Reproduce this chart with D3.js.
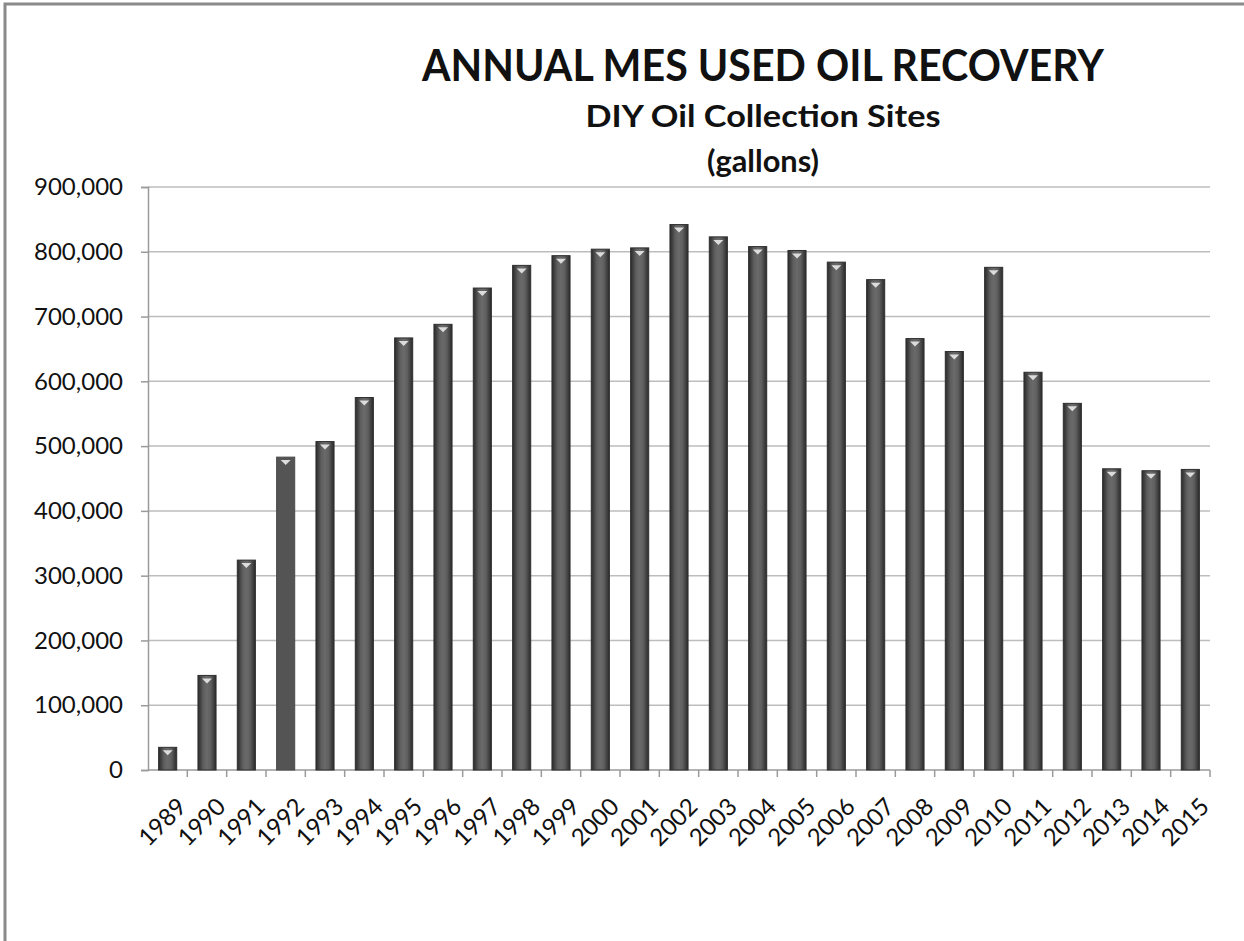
<!DOCTYPE html>
<html>
<head>
<meta charset="utf-8">
<script src="https://cdn.jsdelivr.net/npm/d3@7"></script>
<style>
  html, body { margin: 0; padding: 0; background: #fff; }
  svg { display: block; }
</style>
</head>
<body>
<div id="chart"></div>
<script>
const years = ["1989","1990","1991","1992","1993","1994","1995","1996","1997","1998","1999","2000","2001","2002","2003","2004","2005","2006","2007","2008","2009","2010","2011","2012","2013","2014","2015"];
const gallons = [35000,146000,324000,483000,507000,575000,667000,688000,744000,779000,794000,804000,806000,842000,823000,808000,802000,784000,757000,666000,646000,776000,614000,566000,465000,462000,464000];
const flatYears = ["1992"];
const yTicks = [0,100000,200000,300000,400000,500000,600000,700000,800000,900000];
const titleText = "ANNUAL MES USED OIL RECOVERY";
const subtitleText = "DIY Oil Collection Sites";
const unitText = "(gallons)";

const W = 1244, H = 941;
const margin = {left: 148, right: 34, top: 187, bottom: 171};
const FONT = "Lato, 'Open Sans', sans-serif";
const svg = d3.select("#chart").append("svg").attr("width", W).attr("height", H);

// frame (left & top edges visible)
svg.append("path").attr("d", `M5,${H} L5,4 L${W},4`).attr("fill","none").attr("stroke","#8a8a8a").attr("stroke-width",3);

const x = d3.scaleBand().domain(years).range([margin.left, W - margin.right]).paddingInner(0.54).paddingOuter(0.27);
const y = d3.scaleLinear().domain([0, 900000]).range([H - margin.bottom, margin.top]);

const defs = svg.append("defs");
const g = defs.append("linearGradient").attr("id","barGrad").attr("x1","0").attr("x2","1").attr("y1","0").attr("y2","0");
[[0,"#2a2a2a"],[0.12,"#3f3f3f"],[0.3,"#5f5f5f"],[0.5,"#6a6a6a"],[0.7,"#5f5f5f"],[0.88,"#3f3f3f"],[1,"#2a2a2a"]].forEach(([o,c]) => g.append("stop").attr("offset", o).attr("stop-color", c));

// gridlines
svg.append("g").selectAll("line").data(yTicks.filter(d => d > 0)).join("line")
  .attr("x1", margin.left).attr("x2", W - margin.right)
  .attr("y1", d => y(d)).attr("y2", d => y(d))
  .attr("stroke", "#bdbdbd").attr("stroke-width", 1.5);

// y axis
const yAxis = d3.axisLeft(y).tickValues(yTicks).tickSize(7).tickPadding(18).tickFormat(d3.format(","));
const yg = svg.append("g").attr("transform", `translate(${margin.left},0)`).call(yAxis);
yg.select(".domain").attr("stroke", "#9a9a9a").attr("stroke-width", 1.5);
yg.selectAll(".tick line").attr("stroke", "#9a9a9a").attr("stroke-width", 1.5);
yg.selectAll(".tick text").attr("font-family", FONT).attr("font-size", 24).attr("fill", "#111");

// x axis
const xg = svg.append("g").attr("transform", `translate(0,${y(0)})`);
xg.append("line").attr("x1", margin.left).attr("x2", W - margin.right).attr("stroke", "#9a9a9a").attr("stroke-width", 1.5);
const step = x.step();
const bounds = years.map((d, i) => margin.left + step * (i + 1));
xg.selectAll("line.tk").data(bounds).join("line").attr("class","tk")
  .attr("x1", d => d).attr("x2", d => d).attr("y1", 0).attr("y2", 7)
  .attr("stroke", "#9a9a9a").attr("stroke-width", 1.5);
xg.selectAll("text").data(years).join("text")
  .attr("transform", d => `translate(${x(d) + x.bandwidth() / 2 + 8},${26}) rotate(-45)`)
  .attr("text-anchor", "end").attr("dy", "0.72em")
  .attr("font-family", FONT).attr("font-size", 24).attr("fill", "#111")
  .text(d => d);

// bars
const data = years.map((d, i) => ({year: d, v: gallons[i]}));
const bars = svg.append("g").selectAll("g").data(data).join("g");
bars.append("rect")
  .attr("x", d => x(d.year)).attr("width", x.bandwidth())
  .attr("y", d => y(d.v)).attr("height", d => y(0) - y(d.v))
  .attr("fill", d => flatYears.includes(d.year) ? "#545454" : "url(#barGrad)")
  .attr("stroke", d => flatYears.includes(d.year) ? "#4a4a4a" : "#2e2e2e").attr("stroke-width", 1);
bars.append("path")
  .attr("d", d => {
    const cx = x(d.year) + x.bandwidth() / 2, ty = y(d.v) + 3;
    return `M${cx-5},${ty} L${cx+5},${ty} L${cx},${ty+5} Z`;
  })
  .attr("fill", "#dcdcdc");

// titles
const cx = 763;
svg.append("text").attr("x", cx).attr("y", 81).attr("text-anchor","middle")
  .attr("font-family", FONT).attr("font-weight","bold").attr("font-size", 44).attr("fill","#111")
  .attr("textLength", 682).attr("lengthAdjust", "spacingAndGlyphs").text(titleText);
svg.append("text").attr("x", cx).attr("y", 127).attr("text-anchor","middle")
  .attr("font-family", FONT).attr("font-weight","bold").attr("font-size", 31).attr("fill","#111")
  .attr("textLength", 355).attr("lengthAdjust", "spacingAndGlyphs").text(subtitleText);
svg.append("text").attr("x", cx).attr("y", 172).attr("text-anchor","middle")
  .attr("font-family", FONT).attr("font-weight","bold").attr("font-size", 31).attr("fill","#111")
  .attr("textLength", 112).attr("lengthAdjust", "spacingAndGlyphs").text(unitText);
</script>
</body>
</html>
